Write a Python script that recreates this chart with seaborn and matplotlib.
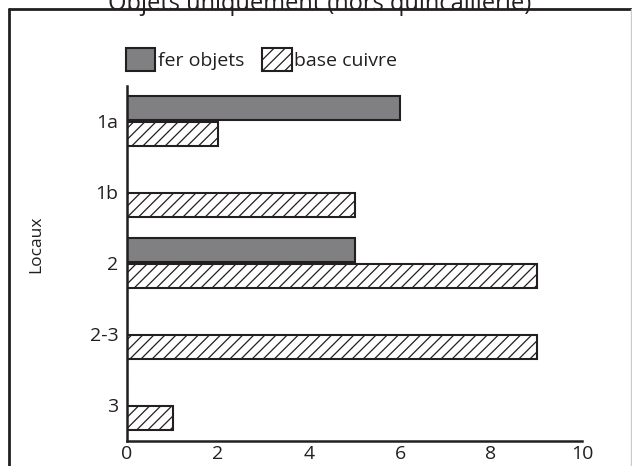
"""
bar chart: objets par local (fer vs base cuivre)
"""

import pandas as pd
import matplotlib.pyplot as plt
import seaborn as sns
from matplotlib.lines import Line2D

# values
locaux = ['1a', '1b', '2', '2-3', '3']
fer_objets = [6, 0, 5, 0, 0]
base_cuivre = [2, 5, 9, 9, 1]
series = ['fer objets', 'base cuivre']
x_ticks = [0, 2, 4, 6, 8, 10]

W, H = 632, 466
DARK = '#231f20'
GREY = '#808083'


def make_df():
    rows = []
    for i, loc in enumerate(locaux):
        rows.append({'local': loc, 'type': series[0], 'n': fer_objets[i]})
        rows.append({'local': loc, 'type': series[1], 'n': base_cuivre[i]})
    return pd.DataFrame(rows)


def main():
    sns.set_style('white')
    plt.rcParams['font.family'] = ['Open Sans', 'DejaVu Sans']
    plt.rcParams['hatch.linewidth'] = 0.9
    plt.rcParams['hatch.color'] = DARK

    df = make_df()

    fig = plt.figure(figsize=(W / 100, H / 100), dpi=100)
    ax = fig.add_axes([127 / W, 1 - 440.5 / H, (582 - 127) / W, (440.5 - 85.5) / H])

    sns.barplot(data=df, y='local', x='n', hue='type', orient='h',
                order=locaux, hue_order=series,
                palette=[GREY, 'white'], width=0.75, gap=0.1,
                edgecolor=DARK, linewidth=1.5, ax=ax, legend=False)

    for bar in ax.containers[1]:
        bar.set_hatch('///')

    ax.set_xlim(0, 10)
    ax.set_xticks(x_ticks)
    ax.set_xticklabels([str(t) for t in x_ticks])
    ax.set_xlabel('')
    ax.set_ylabel('Locaux', fontsize=12.5, color=DARK)
    ax.yaxis.set_label_coords(-0.182, 0.553)
    ax.tick_params(axis='x', direction='in', length=6, width=1.5, color=DARK,
                   labelsize=14, labelcolor=DARK, pad=3)
    ax.tick_params(axis='y', length=0, labelsize=14, labelcolor=DARK, pad=6)

    sns.despine(ax=ax, top=True, right=True)
    for s in ['left', 'bottom']:
        ax.spines[s].set_linewidth(1.8)
        ax.spines[s].set_color(DARK)

    # legend
    handles = [plt.Rectangle((0, 0), 1, 1, facecolor=GREY, edgecolor=DARK, lw=1.5),
               plt.Rectangle((0, 0), 1, 1, facecolor='white', edgecolor=DARK, lw=1.5, hatch='///')]
    fig.legend(handles, series, loc='upper left',
               bbox_to_anchor=(126 / W, 1 - 48 / H), bbox_transform=fig.transFigure,
               ncol=2, frameon=False, fontsize=14, labelcolor=DARK,
               handlelength=1.5, handleheight=1.45, handletextpad=0.12,
               columnspacing=0.95, borderpad=0, borderaxespad=0)

    # outer frame, partly cut off
    fig.add_artist(Line2D([9 / W, 631 / W], [1 - 9 / H, 1 - 9 / H],
                          transform=fig.transFigure, color=DARK, lw=2))
    fig.add_artist(Line2D([9 / W, 9 / W], [0, 1 - 9 / H],
                          transform=fig.transFigure, color=DARK, lw=2))
    fig.add_artist(Line2D([631 / W, 631 / W], [0, 1 - 9 / H],
                          transform=fig.transFigure, color='#cccccc', lw=1))

    fig.text(320 / W, 1 - 10 / H, 'Objets uniquement (hors quincaillerie)',
             ha='center', va='baseline', fontsize=17, color=DARK)

    fig.savefig('out.png', dpi=100, facecolor='white')


if __name__ == '__main__':
    main()
